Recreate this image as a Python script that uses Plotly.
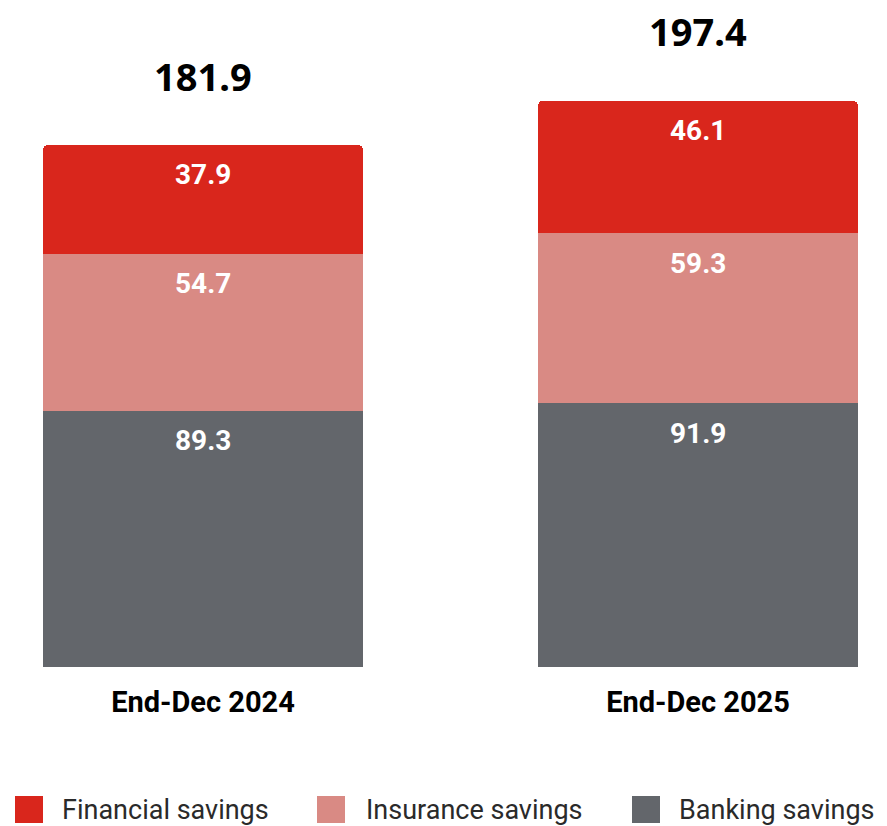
import plotly.graph_objects as go

# --- data ---
categories = ["End-Dec 2024", "End-Dec 2025"]
banking = [89.3, 91.9]
insurance = [54.7, 59.3]
financial = [37.9, 46.1]
totals = [181.9, 197.4]

series = [
    ("Banking savings", banking, "#63666b"),
    ("Insurance savings", insurance, "#d98a84"),
    ("Financial savings", financial, "#d9261c"),
]

# page body has an 8px margin, so the figure is a bit smaller than the window
W, H = 879, 818
MB = 159   # bottom margin, px
MT = 12    # top margin, px
BASE_PX = H - MB          # y pixel of the bar baseline
PLOT_H = H - MB - MT
PX_PER_UNIT = 2.87

fig = go.Figure()

for name, vals, color in series:
    fig.add_trace(
        go.Bar(
            x=categories,
            y=vals,
            name=name,
            marker=dict(color=color, line=dict(width=0)),
            width=0.6465,
            showlegend=False,
            hoverinfo="x+y+name",
        )
    )

# segment labels near top of each segment
cum = [0.0] * len(categories)
for name, vals, color in series:
    for i, v in enumerate(vals):
        cum[i] += v
        fig.add_annotation(
            x=categories[i], y=cum[i], text=f"{v:.1f}",
            showarrow=False, yanchor="middle", yshift=-30,
            font=dict(family="Roboto", size=28, color="white", weight="bold"),
        )

# totals above bars
for cat, tot in zip(categories, totals):
    fig.add_annotation(
        x=cat, y=tot, text=f"{tot:.1f}",
        showarrow=False, yanchor="middle", yshift=69,
        font=dict(family="Noto Sans", size=38, color="black", weight="bold"),
    )

# legend drawn below (financial, insurance, banking order)
legend_items = [series[2], series[1], series[0]]
swatch_x = [7, 309, 624]
text_x = [55, 359, 672]
ly = (BASE_PX - 801.5) / PLOT_H
sh = 27 / PLOT_H
for (name, _, color), px, tx in zip(legend_items, swatch_x, text_x):
    fig.add_shape(
        type="rect", xref="paper", yref="paper",
        x0=px / W, x1=(px + 28) / W, y0=ly - sh / 2, y1=ly + sh / 2,
        fillcolor=color, line=dict(width=0),
    )
    fig.add_annotation(
        xref="paper", yref="paper", x=tx / W, y=ly,
        xanchor="left", yanchor="middle", text=name, showarrow=False,
        xshift=-3,
        font=dict(family="Roboto", size=27, color="#2a2a2a"),
    )

fig.update_layout(
    width=W, height=H,
    barmode="stack",
    barcornerradius=5,
    plot_bgcolor="white", paper_bgcolor="white",
    margin=dict(l=0, r=0, t=MT, b=MB),
    showlegend=False,
    xaxis=dict(
        type="category",
        range=[-195 / 495, 1 + (W - 690) / 495],
        showgrid=False, zeroline=False, showline=False,
        ticks="", ticklabelstandoff=15,
        tickfont=dict(family="Roboto", size=29, color="black", weight="bold"),
    ),
    yaxis=dict(
        range=[0, PLOT_H / PX_PER_UNIT],
        visible=False, showgrid=False, zeroline=False,
    ),
)

fig.write_html("out.html")
